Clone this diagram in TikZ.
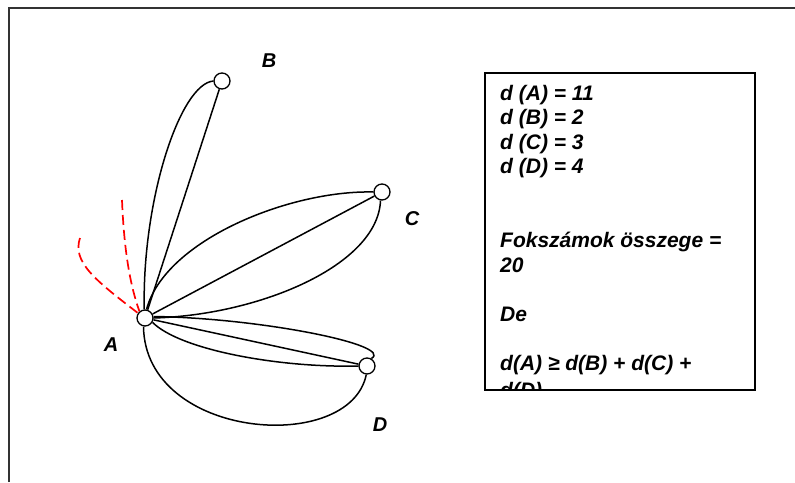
\documentclass[tikz,border=0pt]{standalone}
\usepackage{fontspec}
\setmainfont{Liberation Sans}
\usetikzlibrary{calc}

\begin{document}
\begin{tikzpicture}[x=1pt,y=-1pt,
  vertex/.style={circle,draw,line width=1.3pt,fill=white,inner sep=0pt,minimum size=16pt},
  edge/.style={line width=1.5pt},
  lbl/.style={font=\fontsize{20}{24}\selectfont\bfseries\itshape},
  note/.style={font=\fontsize{21}{25}\selectfont\bfseries\itshape,anchor=base west,inner sep=0pt},
  hint/.style={red,line width=1.7pt,dash pattern=on 10pt off 5pt}]
  \useasboundingbox (0,0) rectangle (795,482);
  % outer frame (left and top edges only)
  \draw[line width=1.8pt,black!80] (9,482) -- (9,8) -- (795,8);
  % vertices
  \node[vertex] (A) at (145,318) {};
  \node[vertex] (B) at (222,81) {};
  \node[vertex] (C) at (382,192) {};
  \node[vertex] (D) at (367,366) {};
  % vertex names
  \node[lbl] (lA) at (111,345) {A};
  \node[lbl] (lB) at (269,61) {B};
  \node[lbl] (lC) at (412,219) {C};
  \node[lbl] (lD) at (380,425) {D};
  % edges A--B
  \draw[edge] (A) -- (B);
  \draw[edge] (A.95) .. controls (142,200) and (180,84) .. (B.180);
  % edges A--C
  \draw[edge] (A) -- (C);
  \draw[edge] (A.80) .. controls (165,240) and (290,190) .. (C.180);
  \draw[edge] (A.0) .. controls (260,315) and (378,265) .. (C.260);
  % edges A--D
  \draw[edge] (A) -- (D);
  \draw[edge] (A.10) .. controls (260,318) and (395,345) .. (D.60);
  \draw[edge] (A.-30) .. controls (180,350) and (280,368) .. (D.180);
  \draw[edge] (A.-100) .. controls (145,440) and (350,455) .. (D.-95);
  % red dashed hints at A
  \coordinate (r1) at (122,200);
  \coordinate (r2) at (80,238);
  \draw[hint] (r1) .. controls (124,250) and (130,285) .. (A.130);
  \draw[hint] (r2) .. controls (72,262) and (95,280) .. (A.145);
  % text box
  \begin{scope}
    \clip (485,73) rectangle (755,389);
    \node[note] (t1) at (500,100) {d (A) = 11};
    \node[note] (t2) at (500,124.6) {d (B) = 2};
    \node[note] (t3) at (500,149.2) {d (C) = 3};
    \node[note] (t4) at (500,173.8) {d (D) = 4};
    \node[note] (t5) at (500,247.6) {Fokszámok összege =};
    \node[note] (t6) at (500,272.2) {20};
    \node[note] (t7) at (500,321.4) {De};
    \node[note] (t8) at (500,370.6) {d(A) ≥ d(B) + d(C) +};
    \node[note] (t9) at (500,397) {d(D)};
  \end{scope}
  \draw[line width=1.7pt] (485,73) rectangle (755,390);
\end{tikzpicture}
\end{document}
